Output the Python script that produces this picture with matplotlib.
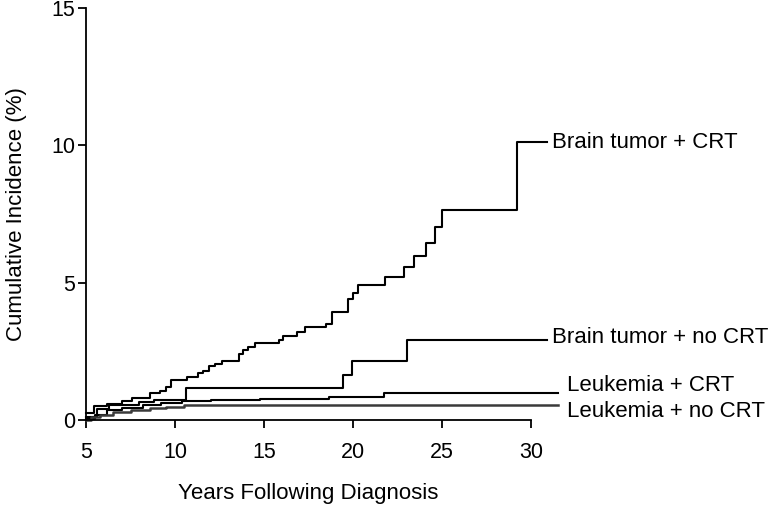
import matplotlib
matplotlib.use('Agg')
import matplotlib.pyplot as plt

plt.rcParams['font.family'] = ['Liberation Sans', 'DejaVu Sans']

# Step curves (years following diagnosis, cumulative incidence %)
brain_crt_x = [5.0, 5.43, 6.2, 7.0, 7.6, 8.6, 9.15, 9.5, 9.8, 10.7, 11.3, 11.6, 11.9,
               12.25, 12.65, 13.6, 13.8, 14.1, 14.5, 15.85, 16.07, 16.85, 17.3, 18.5,
               18.8, 19.7, 20.0, 20.3, 21.8, 22.86, 23.4, 24.1, 24.6, 25.0, 29.2, 30.9]
brain_crt_y = [0.25, 0.52, 0.6, 0.69, 0.8, 0.98, 1.05, 1.2, 1.45, 1.56, 1.7, 1.78, 1.95,
               2.05, 2.15, 2.4, 2.56, 2.67, 2.8, 2.92, 3.07, 3.22, 3.4, 3.5,
               3.95, 4.42, 4.64, 4.9, 5.2, 5.58, 5.98, 6.45, 7.03, 7.65, 10.14, 10.14]

brain_nocrt_x = [5.0, 5.6, 6.3, 8.0, 8.8, 10.6, 19.44, 19.94, 23.03, 30.9]
brain_nocrt_y = [0.1, 0.42, 0.55, 0.64, 0.72, 1.16, 1.63, 2.14, 2.93, 2.93]

leuk_crt_x = [5.0, 5.5, 6.2, 7.0, 8.2, 9.2, 10.4, 12.0, 14.8, 16.2, 18.65, 21.74, 31.5]
leuk_crt_y = [0.05, 0.2, 0.35, 0.45, 0.55, 0.62, 0.69, 0.72, 0.76, 0.78, 0.84, 0.97, 0.97]

leuk_nocrt_x = [5.0, 5.3, 5.8, 6.5, 7.5, 8.6, 9.5, 10.5, 31.5]
leuk_nocrt_y = [0.0, 0.1, 0.2, 0.3, 0.38, 0.45, 0.48, 0.56, 0.56]

labels = ['Brain tumor + CRT', 'Brain tumor + no CRT', 'Leukemia + CRT', 'Leukemia + no CRT']
label_x = [31.2, 31.2, 32.0, 32.0]
label_y = [10.1, 3.0, 1.25, 0.3]

xticks = [5, 10, 15, 20, 25, 30]
yticks = [0, 5, 10, 15]

fig = plt.figure(figsize=(7.77, 5.11), dpi=100)
ax = fig.add_axes([0.1107, 0.178, 0.5727, 0.806])

for xs, ys, c, lw in [(brain_crt_x, brain_crt_y, 'black', 1.5),
                      (brain_nocrt_x, brain_nocrt_y, 'black', 1.5),
                      (leuk_crt_x, leuk_crt_y, 'black', 1.5),
                      (leuk_nocrt_x, leuk_nocrt_y, '#3a3a3a', 1.8)]:
    ax.step(xs, ys, where='post', color=c, linewidth=lw, clip_on=False)

for lab, lx, ly in zip(labels, label_x, label_y):
    ax.text(lx, ly, lab, fontsize=16, va='center', ha='left')

ax.set_xlim(5, 30)
ax.set_ylim(0, 15)
ax.set_xticks(xticks)
ax.set_yticks(yticks)
ax.spines['top'].set_visible(False)
ax.spines['right'].set_visible(False)
for s in ['left', 'bottom']:
    ax.spines[s].set_linewidth(1.3)
ax.tick_params(axis='both', direction='out', length=6, width=1.3, labelsize=15.5)
ax.tick_params(axis='x', pad=10)
ax.tick_params(axis='y', pad=2)

ax.set_xlabel('Years Following Diagnosis', fontsize=16, labelpad=14)
ax.set_ylabel('Cumulative Incidence (%)', fontsize=16, labelpad=17)

fig.savefig('out.png', dpi=100)
